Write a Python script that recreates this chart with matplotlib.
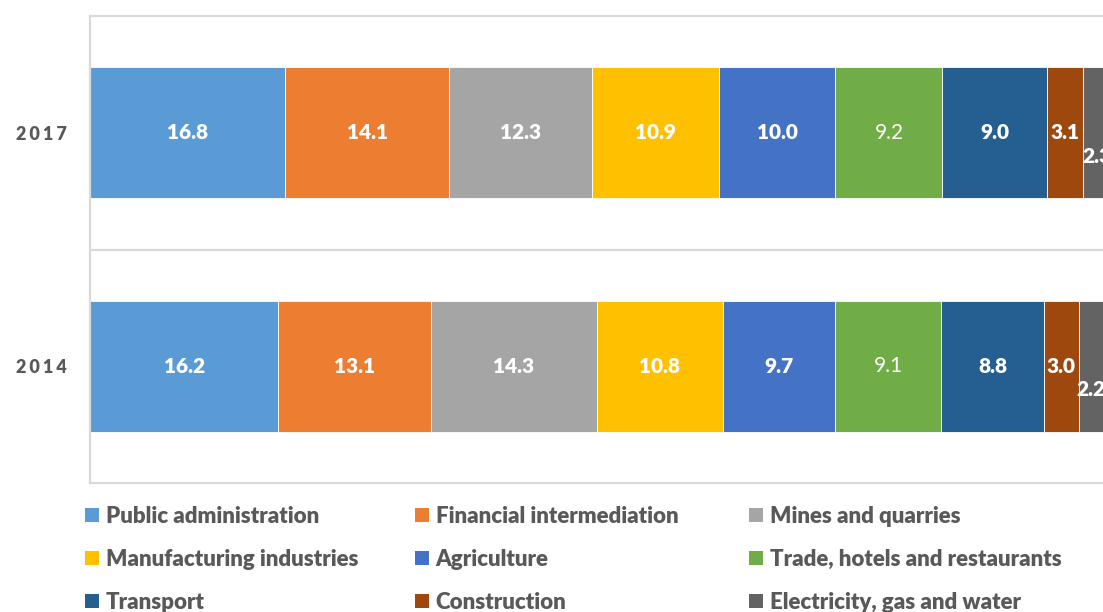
import matplotlib
matplotlib.use("Agg")
import matplotlib.pyplot as plt
from matplotlib.patches import Patch

# ---- data ----
years = ["2014", "2017"]
sectors = ["Public administration", "Financial intermediation", "Mines and quarries",
           "Manufacturing industries", "Agriculture", "Trade, hotels and restaurants",
           "Transport", "Construction", "Electricity, gas and water"]
values_2014 = [16.2, 13.1, 14.3, 10.8, 9.7, 9.1, 8.8, 3.0, 2.2]
values_2017 = [16.8, 14.1, 12.3, 10.9, 10.0, 9.2, 9.0, 3.1, 2.3]
colors = ["#5B9BD5", "#ED7D31", "#A5A5A5", "#FFC000", "#4472C4", "#70AD47",
          "#255E91", "#9E480E", "#636363"]

plt.rcParams['font.family'] = ['Lato', 'DejaVu Sans']

W, H = 1103, 612
fig = plt.figure(figsize=(W / 100, H / 100), dpi=100)
ax = fig.add_axes([90 / W, 1 - 483 / H, 1163 / W, (483 - 16) / H])

series = [values_2014, values_2017]
ypos = [0, 1]
bar_h = 0.56
for yi, vals in zip(ypos, series):
    left = 0.0
    for i, v in enumerate(vals):
        ax.barh(yi, v, left=left, height=bar_h, color=colors[i],
                edgecolor="white", linewidth=0.6)
        small = v < 2.5
        ty = yi - 0.1 if small else yi
        weight = "normal" if sectors[i].startswith("Trade") else "heavy"
        ax.text(left + v / 2, ty, f"{v:.1f}", ha="center", va="center",
                color="white", fontsize=15, fontweight=weight)
        left += v

ax.set_xlim(0, 100)
ax.set_ylim(-0.5, 1.5)
ax.axhline(0.5, color="#D9D9D9", lw=1.6, zorder=0)
ax.set_xticks([])
ax.set_yticks(ypos)
ax.set_yticklabels(["\u2006".join(y) for y in years], fontsize=13,
                   fontweight="heavy", color="#595959")
ax.tick_params(axis="y", length=0, pad=17)
for s in ["left", "top", "bottom"]:
    ax.spines[s].set_color("#D9D9D9")
    ax.spines[s].set_linewidth(1.6)
ax.spines["right"].set_visible(False)

# legend: three columns placed separately
handles = [Patch(facecolor=c, edgecolor="none") for c in colors]
col_x = [85, 415, 749]
for c in range(3):
    idx = [c, c + 3, c + 6]
    fig.legend([handles[i] for i in idx], [sectors[i] for i in idx],
               loc="upper left", bbox_to_anchor=(col_x[c] / W, 1 - 506 / H),
               frameon=False, borderpad=0, borderaxespad=0,
               handlelength=0.63, handleheight=0.63, handletextpad=0.3,
               labelspacing=0.99,
               prop={"family": "Lato", "weight": "heavy", "size": 16},
               labelcolor="#595959")

fig.savefig("out.png", dpi=100)
